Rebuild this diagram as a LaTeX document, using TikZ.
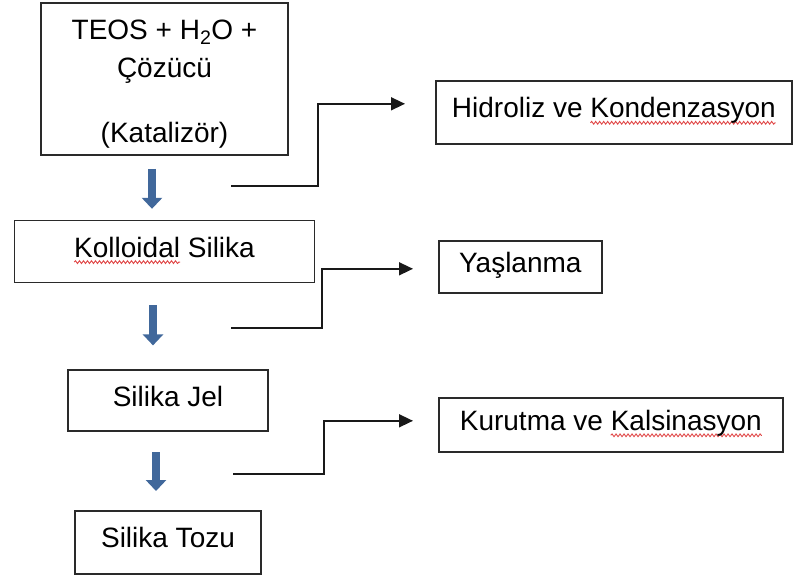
\documentclass[tikz,border=0pt]{standalone}
\usepackage{fontspec}
\setmainfont{Liberation Sans}
\usepackage{tikz}
\usetikzlibrary{positioning, arrows.meta, decorations.pathmorphing}

\definecolor{flowblue}{HTML}{41689B}
\definecolor{boxgray}{HTML}{2A2A2A}
\definecolor{typored}{HTML}{E04848}

% spell-check mark under a word
\newsavebox{\typobox}
\newcommand{\typo}[1]{\sbox{\typobox}{#1}\tikz[overlay, baseline=0pt]\draw[typored, line width=0.9pt, decorate, decoration={snake, amplitude=1.4pt, segment length=4pt}] (0pt,-5pt) -- (\wd\typobox,-5pt);\usebox{\typobox}}

\begin{document}
\begin{tikzpicture}[x=1pt, y=-1pt,
            box/.style={draw=boxgray, line width=1.6pt, rectangle, inner sep=0pt, font=\fontsize{28}{38}\selectfont, text=black},
            single/.style={text height=20pt, text depth=9pt},
            flow/.style={flowblue, line width=8pt, -{Triangle[width=20pt, length=11pt]}},
            link/.style={black!90, line width=1.5pt, -{Triangle[width=13pt, length=14pt]}}
        ]
        \useasboundingbox (0,0) rectangle (794,574);

        % Boxes
        \node[box, align=center, minimum width=247pt, minimum height=152pt] (teos) at (164.5,79) {\rule{0pt}{30pt}TEOS + H\textsubscript{2}O +\\Çözücü\\[27pt](Katalizör)};
        \node[box, single, below=64pt of teos, minimum width=300pt, minimum height=62pt] (kolloid) {\typo{Kolloidal} Silika};
        \node[box, single, below=86pt of kolloid, xshift=3.5pt, minimum width=200pt, minimum height=61pt] (jel) {Silika Jel};
        \node[box, single, below=78pt of jel, minimum width=186pt, minimum height=63pt] (toz) {Silika Tozu};

        \node[box, single, anchor=north west, minimum width=356pt, minimum height=63pt] (hidroliz) at (435,80) {Hidroliz ve \typo{Kondenzasyon}};
        \node[box, single, anchor=north west, minimum width=163pt, minimum height=52pt] (yas) at (438,240) {Yaşlanma};
        \node[box, single, anchor=north west, minimum width=344pt, minimum height=54pt] (kurutma) at (438,397) {Kurutma ve \typo{Kalsinasyon}};

        % Flow arrows
        \draw[flow, shorten <=13pt, shorten >=11pt] ([xshift=-12.5pt]teos.south) -- ([xshift=-12.5pt]kolloid.north);
        \draw[flow, shorten <=22pt, shorten >=24pt] ([xshift=-11.5pt]kolloid.south) -- ([xshift=-15pt]jel.north);
        \draw[flow, shorten <=20pt, shorten >=19pt] ([xshift=-12pt]jel.south) -- ([xshift=-12pt]toz.north);

        % Steps
        \coordinate (h1) at (231,186);
        \coordinate (k1) at (318,186);
        \coordinate (h2) at (231,328);
        \coordinate (k2) at (322,328);
        \coordinate (h3) at (233,474);
        \coordinate (k3) at (324,474);
        \draw[link, shorten >=30pt] (h1) -- (k1) |- ([yshift=8.5pt]hidroliz.west);
        \draw[link, shorten >=25pt] (h2) -- (k2) |- ([yshift=-2pt]yas.west);
        \draw[link, shorten >=25pt] (h3) -- (k3) |- ([yshift=4pt]kurutma.west);

    \end{tikzpicture}
\end{document}
